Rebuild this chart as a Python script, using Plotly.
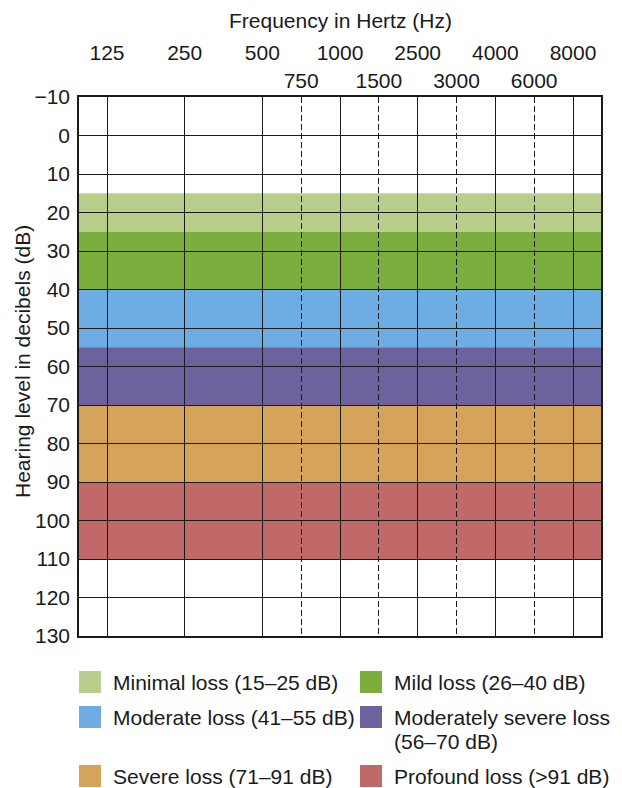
import plotly.graph_objects as go

# audiogram frequencies (Hz)
freqs_main = [125, 250, 500, 1000, 2500, 4000, 8000]
freqs_inter = [750, 1500, 3000, 6000]
# horizontal slot of each frequency on the chart
freq_slot = {125: 0, 250: 2, 500: 4, 750: 5, 1000: 6, 1500: 7,
             2500: 8, 3000: 9, 4000: 10, 6000: 11, 8000: 12}

# hearing loss bands (dB)
band_names = ["Minimal loss (15–25 dB)", "Mild loss (26–40 dB)",
              "Moderate loss (41–55 dB)", "Moderately severe loss\n(56–70 dB)",
              "Severe loss (71–91 dB)", "Profound loss (>91 dB)"]
band_low = [15, 25, 40, 55, 70, 90]
band_high = [25, 40, 55, 70, 90, 110]
band_colors = ["#b8cf8b", "#7bae3c", "#6eade3", "#6e629e", "#d6a35b", "#c06968"]

FONT = "Liberation Sans, Arial, sans-serif"
W, H = 622, 788
L, R, T, B = 79, 21, 97, 152
pw, ph = W - L - R, H - T - B


def px_x(px):
    return (px - L) / pw


def px_y(py):
    return (H - B - py) / ph


fig = go.Figure()

# invisible traces so both x axes get drawn
fig.add_trace(go.Scatter(x=[freq_slot[f] for f in freqs_main], y=[None] * len(freqs_main),
                         mode="markers", showlegend=False, hoverinfo="skip"))
fig.add_trace(go.Scatter(x=[freq_slot[f] for f in freqs_inter], y=[None] * len(freqs_inter),
                         mode="markers", showlegend=False, hoverinfo="skip", xaxis="x2"))

# coloured bands behind the grid
for lo, hi, c in zip(band_low, band_high, band_colors):
    fig.add_shape(type="rect", xref="x domain", yref="y", x0=0, x1=1, y0=lo, y1=hi,
                  fillcolor=c, line_width=0, layer="below")

# legend (2 columns)
col_x = [79, 360]
row_y = [682, 717, 776]
for i, (name, c) in enumerate(zip(band_names, band_colors)):
    cx = col_x[i % 2]
    cy = row_y[i // 2]
    fig.add_shape(type="rect", xref="paper", yref="paper",
                  x0=px_x(cx), x1=px_x(cx + 22), y0=px_y(cy - 11), y1=px_y(cy + 11),
                  fillcolor=c, line_width=0)
    for j, line in enumerate(name.split("\n")):
        fig.add_annotation(x=px_x(cx + 32), y=px_y(cy + j * 24), xref="paper", yref="paper",
                           text=line, showarrow=False, xanchor="left", yanchor="middle",
                           font=dict(size=21, family=FONT, color="#1a1a1a"))

fig.add_annotation(x=px_x(340), y=px_y(20), xref="paper", yref="paper",
                   text="Frequency in Hertz (Hz)", showarrow=False,
                   xanchor="center", yanchor="middle",
                   font=dict(size=21, family=FONT, color="#1a1a1a"))
fig.add_annotation(x=px_x(22), y=px_y(362), xref="paper", yref="paper",
                   text="Hearing level in decibels (dB)", showarrow=False, textangle=-90,
                   xanchor="center", yanchor="middle",
                   font=dict(size=21, family=FONT, color="#1a1a1a"))

xr = [-0.721, 12.721]
fig.update_layout(
    width=W, height=H,
    margin=dict(l=L, r=R, t=T, b=B),
    paper_bgcolor="white", plot_bgcolor="white",
    font=dict(family=FONT, size=21, color="#1a1a1a"),
    showlegend=False,
    xaxis=dict(range=xr, side="top", tickmode="array",
               tickvals=[freq_slot[f] for f in freqs_main],
               ticktext=[str(f) for f in freqs_main],
               showgrid=True, gridcolor="#1a1a1a", gridwidth=1.4,
               ticks="", ticklabelstandoff=27, zeroline=False,
               showline=True, linecolor="#1a1a1a", linewidth=1.6, mirror=True),
    xaxis2=dict(range=xr, side="top", overlaying="x", tickmode="array",
                tickvals=[freq_slot[f] for f in freqs_inter],
                ticktext=[str(f) for f in freqs_inter],
                showgrid=True, gridcolor="#1a1a1a", gridwidth=1.2, griddash="6px,3px",
                ticks="", ticklabelstandoff=4, zeroline=False),
    yaxis=dict(range=[130, -10], tickmode="linear", tick0=-10, dtick=10,
               showgrid=True, gridcolor="#1a1a1a", gridwidth=1.4,
               ticks="", ticklabelstandoff=3, zeroline=False,
               showline=True, linecolor="#1a1a1a", linewidth=1.6, mirror=True),
)

fig.write_html("out.html", config={"displayModeBar": False},
               post_script="document.body.style.margin='0';")
